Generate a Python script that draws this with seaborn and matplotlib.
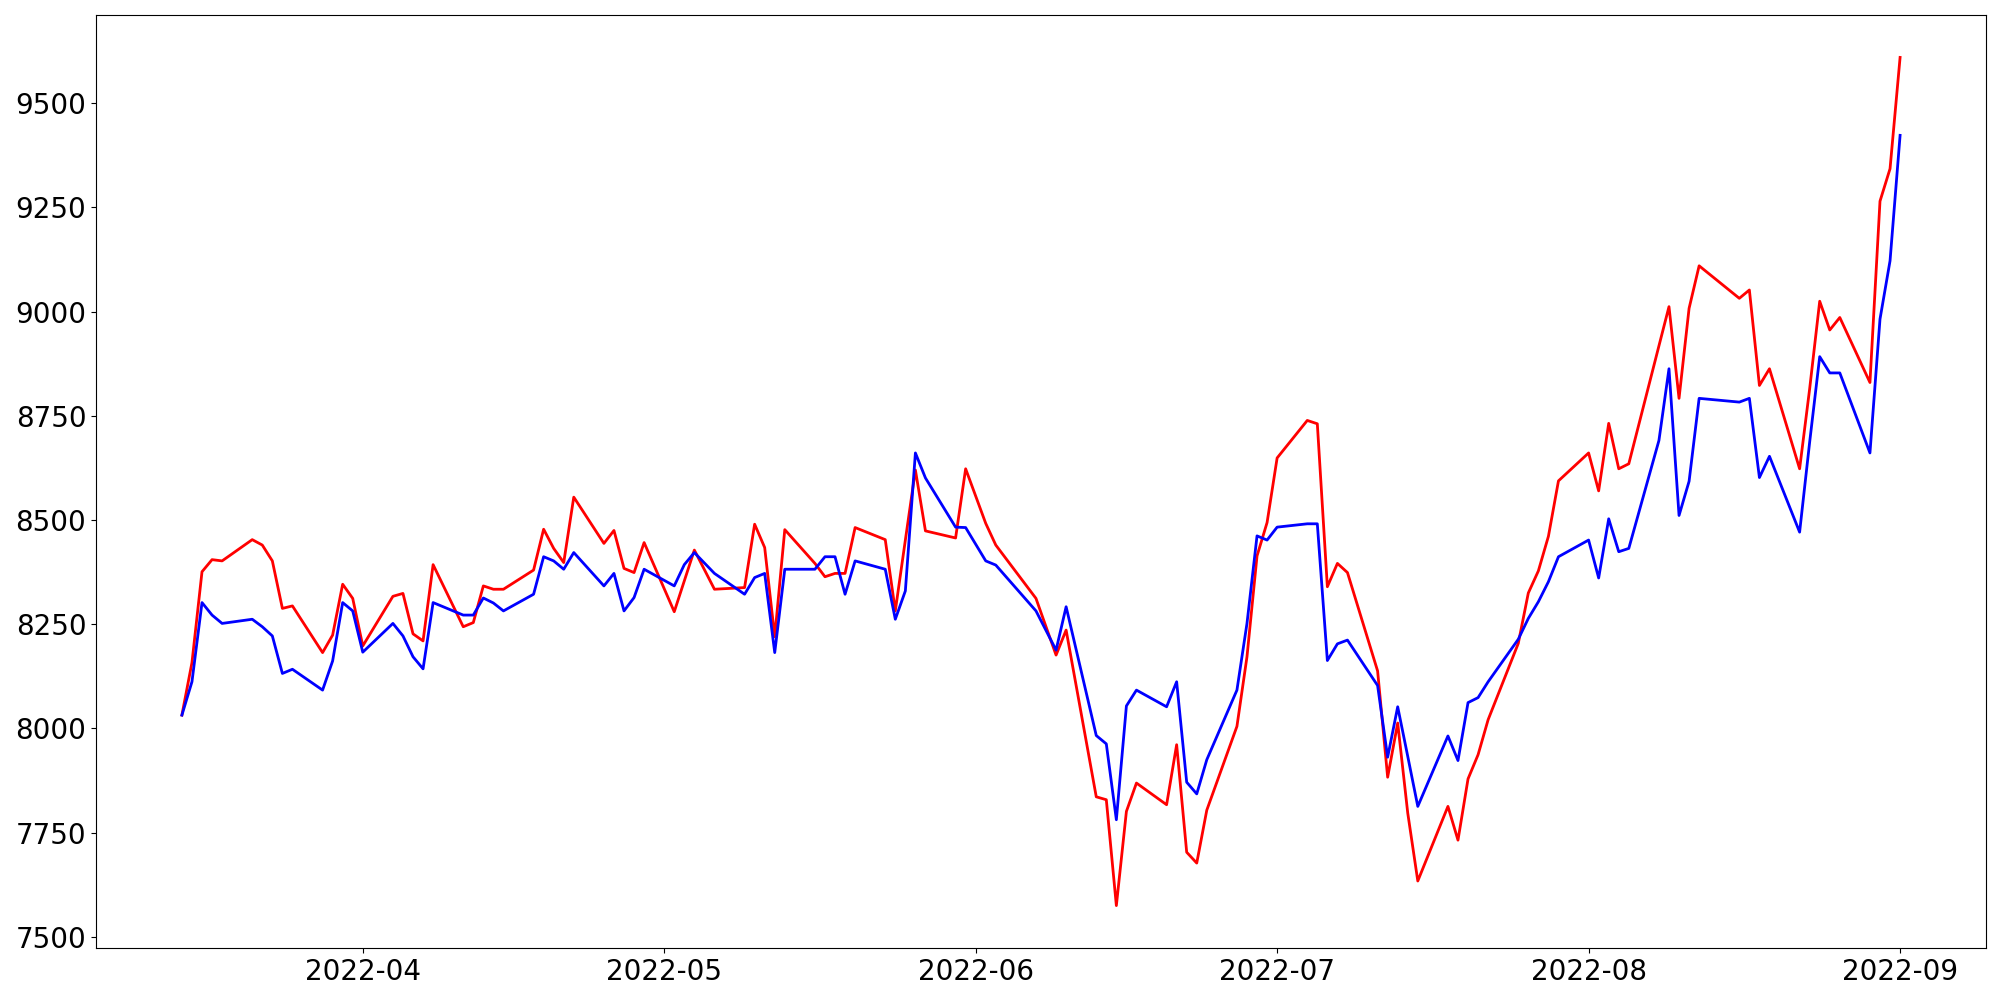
import matplotlib

matplotlib.use("Agg")

import matplotlib.pyplot as plt
import pandas as pd
import seaborn as sns

# trading days, Mar 14 - Sep 1 2022 (closed on these weekdays)
HOLIDAYS = ["2022-05-05", "2022-06-01", "2022-06-06", "2022-08-15"]

red_values = [
    # March
    8032, 8158, 8376, 8405, 8402, 8453, 8440, 8402, 8288, 8294, 8182, 8224, 8346, 8312,
    # April
    8198, 8317, 8324, 8227, 8210, 8393, 8244, 8254, 8342, 8334, 8334,
    8380, 8478, 8432, 8398, 8555, 8444, 8475, 8384, 8374, 8446,
    # May
    8280, 8354, 8428, 8334, 8338, 8490, 8434, 8220, 8477, 8396, 8364,
    8372, 8372, 8482, 8453, 8282, 8452, 8620, 8474, 8457, 8623,
    # June
    8492, 8440, 8312, 8244, 8176, 8236, 7836, 7829, 7575, 7801,
    7869, 7817, 7961, 7703, 7677, 7804, 8005, 8172, 8414, 8494,
    # July
    8649, 8739, 8731, 8340, 8396, 8374, 8138, 7883, 8013, 7797, 7634,
    7813, 7732, 7879, 7937, 8021, 8204, 8325, 8378, 8461, 8594,
    # August
    8661, 8570, 8732, 8623, 8635, 8918, 9012, 8792, 9008, 9110, 9032,
    9052, 8823, 8863, 8623, 8815, 9025, 8956, 8986, 8830, 9265, 9343,
    # September
    9610,
]

blue_values = [
    # March
    8032, 8112, 8302, 8272, 8252, 8262, 8244, 8222, 8132, 8142, 8092, 8162, 8302, 8282,
    # April
    8183, 8252, 8222, 8172, 8143, 8302, 8272, 8272, 8313, 8301, 8282,
    8322, 8412, 8402, 8382, 8422, 8342, 8372, 8282, 8314, 8382,
    # May
    8342, 8393, 8422, 8372, 8322, 8362, 8372, 8182, 8382, 8382, 8412,
    8412, 8322, 8402, 8382, 8262, 8330, 8661, 8601, 8483, 8482,
    # June
    8402, 8392, 8282, 8235, 8188, 8292, 7983, 7963, 7781, 8054,
    8092, 8052, 8112, 7871, 7843, 7925, 8092, 8252, 8462, 8452,
    # July
    8483, 8491, 8491, 8163, 8203, 8212, 8103, 7931, 8052, 7933, 7813,
    7982, 7923, 8062, 8074, 8112, 8214, 8264, 8304, 8352, 8412,
    # August
    8452, 8361, 8503, 8424, 8432, 8691, 8863, 8511, 8593, 8792, 8783,
    8792, 8602, 8653, 8471, 8687, 8892, 8853, 8853, 8661, 8982, 9122,
    # September
    9423,
]

dates = pd.bdate_range("2022-03-14", "2022-09-01")
dates = dates[~dates.isin(pd.to_datetime(HOLIDAYS))]

df = pd.DataFrame({"date": dates, "red": red_values, "blue": blue_values})

fig, ax = plt.subplots(figsize=(20, 10), dpi=100)
sns.lineplot(data=df, x="date", y="red", color="red", linewidth=2, ax=ax)
sns.lineplot(data=df, x="date", y="blue", color="blue", linewidth=2, ax=ax)

ax.set_xlabel("")
ax.set_ylabel("")
ax.tick_params(axis="both", labelsize=20)

fig.subplots_adjust(left=0.048, right=0.993, top=0.985, bottom=0.052)
fig.savefig("out.png", dpi=100)
plt.close(fig)
